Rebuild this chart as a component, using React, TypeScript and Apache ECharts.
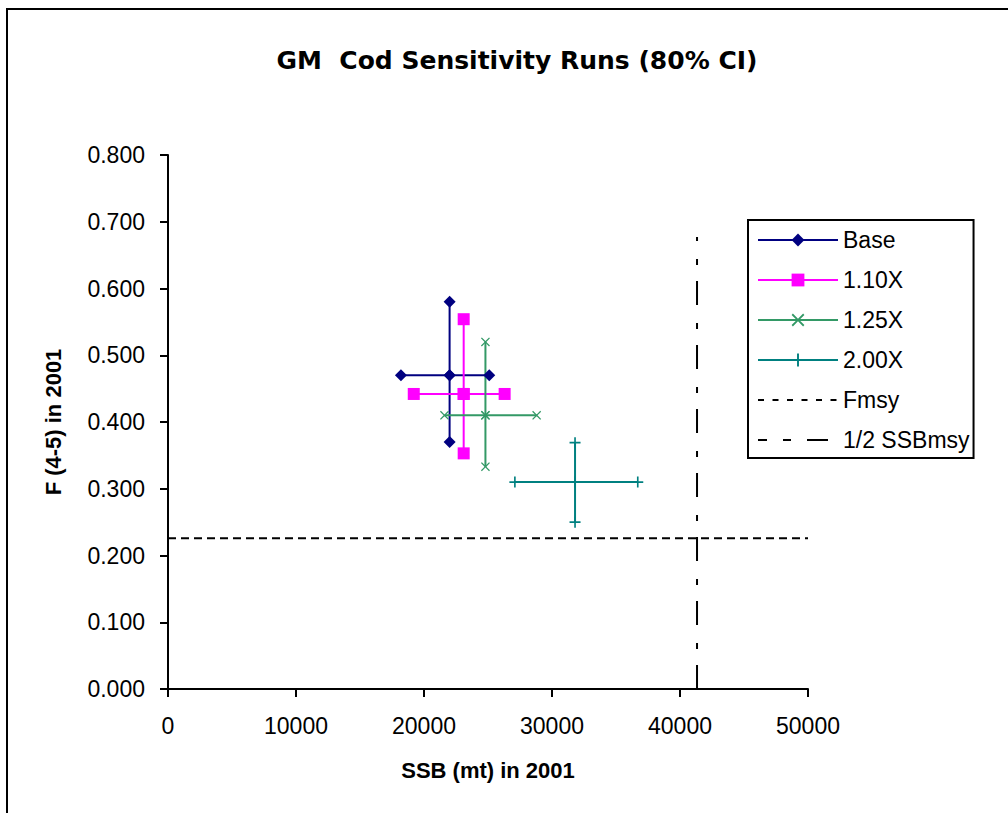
import React, { useEffect, useRef } from "react";
import * as echarts from "echarts";

// ---- data ----
const seriesNames = ["Base", "1.10X", "1.25X", "2.00X", "Fmsy", "1/2 SSBmsy"];
// [left, centre, right] SSB and [lower, centre, upper] F for each run
const baseSSB = [18200, 22000, 25100];
const baseF = [0.37, 0.47, 0.58];
const x110SSB = [19200, 23100, 26300];
const x110F = [0.353, 0.442, 0.554];
const x125SSB = [21600, 24800, 28800];
const x125F = [0.333, 0.41, 0.52];
const x200SSB = [27100, 31800, 36700];
const x200F = [0.25, 0.31, 0.369];
const fmsyValue = 0.226;
const fmsySSBRange = [0, 50000];
const halfSSBmsyValue = 41330;
const halfSSBmsyFRange = [0, 0.677];
const xTicks = [0, 10000, 20000, 30000, 40000, 50000];
const yTicks = [0, 0.1, 0.2, 0.3, 0.4, 0.5, 0.6, 0.7, 0.8];

function crossPoints(ssb: number[], f: number[]) {
  const [l, c, r] = ssb;
  const [b, m, t] = f;
  return [
    [l, m],
    [c, m],
    [r, m],
    [c, m],
    [c, t],
    [c, b],
  ];
}

const PLUS = "path://M4.25,0H5.75V4.25H10V5.75H5.75V10H4.25V5.75H0V4.25H4.25Z";
const XMARK = "path://M0,1L1,0L5,4L9,0L10,1L6,5L10,9L9,10L5,6L1,10L0,9L4,5Z";
const FMSY_ICON =
  "path://M0,7H6V9H0Z M14.5,7H20.5V9H14.5Z M29,7H35V9H29Z M43.5,7H49.5V9H43.5Z M58,7H64V9H58Z M72.5,7H78.5V9H72.5Z M0,0H0.01V0.01H0Z M80,16H79.99V15.99H80Z";
const SSB_ICON =
  "path://M0,7H9V9H0Z M25,7H33V9H25Z M49,7H70V9H49Z M0,0H0.01V0.01H0Z M80,16H79.99V15.99H80Z";

export default function App() {
  const ref = useRef<HTMLDivElement>(null);
  useEffect(() => {
    if (!ref.current) return;
    const chart = echarts.init(ref.current, undefined, { renderer: "svg" });
    const font = "Liberation Sans";
    const option: any = {
      animation: false,
      backgroundColor: "#fff",
      title: {
        text: "GM  Cod Sensitivity Runs (80% CI)",
        left: 512,
        top: 43,
        textAlign: "center",
        textStyle: {
          fontFamily: "DejaVu Sans",
          fontWeight: "bold",
          fontSize: 25,
          color: "#000",
        },
      },
      graphic: [
        {
          type: "rect",
          shape: { x: 7, y: 9, width: 1100, height: 900 },
          style: { fill: "none", stroke: "#000", lineWidth: 2 },
          silent: true,
          z: -1,
        },
      ],
      grid: { left: 168, right: 200, top: 155, bottom: 124, containLabel: false },
      legend: {
        orient: "vertical",
        left: 748,
        top: 220,
        itemWidth: 80,
        itemHeight: 16,
        itemGap: 16,
        padding: [8, 4, 6, 9],
        borderColor: "#000",
        borderWidth: 2,
        backgroundColor: "#fff",
        textStyle: { fontFamily: font, fontSize: 23, color: "#000", lineHeight: 24 },
        data: [
          { name: seriesNames[0] },
          { name: seriesNames[1] },
          { name: seriesNames[2] },
          { name: seriesNames[3] },
          { name: seriesNames[4], icon: FMSY_ICON },
          { name: seriesNames[5], icon: SSB_ICON },
        ],
      },
      xAxis: {
        type: "value",
        min: xTicks[0],
        max: xTicks[xTicks.length - 1],
        interval: 10000,
        name: "SSB (mt) in 2001",
        nameLocation: "middle",
        nameGap: 70,
        nameTextStyle: { fontFamily: font, fontWeight: "bold", fontSize: 22, color: "#000" },
        axisLine: { lineStyle: { color: "#000", width: 2 } },
        axisTick: { show: true, length: 8, lineStyle: { color: "#000", width: 2 } },
        axisLabel: {
          fontFamily: font,
          fontSize: 23,
          color: "#000",
          margin: 25,
          formatter: (v: number) => String(v),
        },
        splitLine: { show: false },
      },
      yAxis: {
        type: "value",
        min: yTicks[0],
        max: yTicks[yTicks.length - 1],
        interval: 0.1,
        name: "F (4-5) in 2001",
        nameLocation: "middle",
        nameGap: 104,
        nameRotate: 90,
        nameTextStyle: { fontFamily: font, fontWeight: "bold", fontSize: 22, color: "#000" },
        axisLine: { show: true, lineStyle: { color: "#000", width: 2 } },
        axisTick: { show: true, length: 8, lineStyle: { color: "#000", width: 2 } },
        axisLabel: {
          fontFamily: font,
          fontSize: 23,
          color: "#000",
          margin: 23,
          formatter: (v: number) => v.toFixed(3),
        },
        splitLine: { show: false },
      },
      series: [
        {
          name: seriesNames[0],
          type: "line",
          data: crossPoints(baseSSB, baseF),
          symbol: "diamond",
          symbolSize: 12,
          itemStyle: { color: "#000080" },
          lineStyle: { color: "#000080", width: 2 },
        },
        {
          name: seriesNames[1],
          type: "line",
          data: crossPoints(x110SSB, x110F),
          symbol: "rect",
          symbolSize: 12,
          itemStyle: { color: "#FF00FF" },
          lineStyle: { color: "#FF00FF", width: 2 },
        },
        {
          name: seriesNames[2],
          type: "line",
          data: crossPoints(x125SSB, x125F),
          symbol: XMARK,
          symbolSize: 9,
          itemStyle: { color: "#339966" },
          lineStyle: { color: "#339966", width: 2 },
        },
        {
          name: seriesNames[3],
          type: "line",
          data: crossPoints(x200SSB, x200F),
          symbol: PLUS,
          symbolSize: 11,
          itemStyle: { color: "#008080" },
          lineStyle: { color: "#008080", width: 2 },
        },
        {
          name: seriesNames[4],
          type: "line",
          data: [
            [fmsySSBRange[0], fmsyValue],
            [fmsySSBRange[1], fmsyValue],
          ],
          symbol: "none",
          itemStyle: { color: "#000" },
          lineStyle: { color: "#000", width: 2, type: [8, 5] },
        },
        {
          name: seriesNames[5],
          type: "line",
          data: [
            [halfSSBmsyValue, halfSSBmsyFRange[0]],
            [halfSSBmsyValue, halfSSBmsyFRange[1]],
          ],
          symbol: "none",
          itemStyle: { color: "#000" },
          lineStyle: { color: "#000", width: 2, type: [24, 16, 6, 18] },
        },
      ],
    };
    chart.setOption(option);
    return () => chart.dispose();
  }, []);
  return (
    <div
      ref={ref}
      style={{ position: "absolute", left: 0, top: 0, width: 1008, height: 813 }}
    />
  );
}
